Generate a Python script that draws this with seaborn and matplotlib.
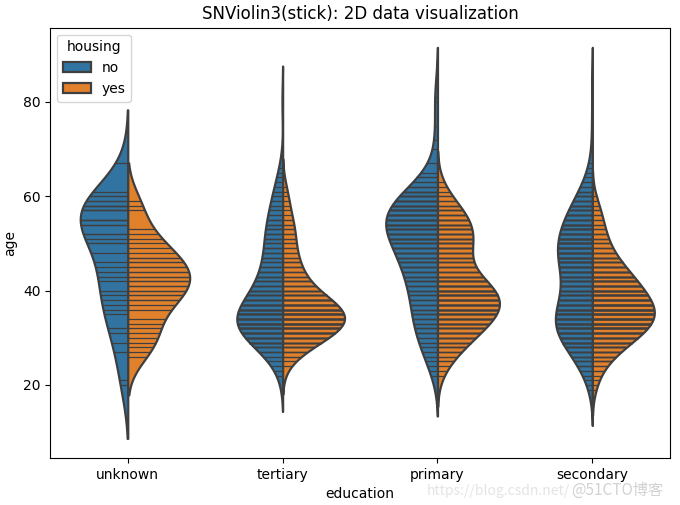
import numpy as np
import pandas as pd
import seaborn as sns
import matplotlib.pyplot as plt

education = ['unknown', 'tertiary', 'primary', 'secondary']
housing = ['no', 'yes']

# ages seen in each (education, housing) group and how often each occurs
unknown_no_age = [20, 21, 27, 29, 31, 32, 35, 36, 37, 38, 39, 40, 42, 43, 44, 45, 46, 48,
                  50, 51, 52, 54, 55, 57, 58, 59, 60, 61, 67]
unknown_no_n = [1, 1, 1, 1, 1, 1, 1, 1, 1, 1, 1, 1, 1, 1, 1, 1, 1, 1,
                2, 1, 2, 2, 3, 3, 3, 2, 2, 1, 1]
unknown_yes_age = [26, 27, 28, 29, 30, 31, 32, 33, 34, 36, 37, 38, 39, 40, 41, 42, 43, 44,
                   45, 46, 47, 48, 49, 50, 51, 52, 53, 57, 58, 59]
unknown_yes_n = [1, 1, 1, 1, 1, 1, 1, 1, 1, 1, 1, 2, 2, 2, 2, 2, 2, 2,
                 2, 2, 2, 1, 1, 1, 1, 1, 1, 1, 1, 1]

tertiary_no_age = [22, 23, 24, 25, 26, 27, 28, 29, 30, 31, 32, 33, 34, 35, 36, 37, 38, 39,
                   40, 41, 42, 43, 44, 45, 46, 47, 48, 49, 50, 51, 52, 53, 54, 55, 56, 57,
                   58, 59, 60, 61, 62, 63, 64, 65, 66, 80]
tertiary_no_n = [1, 1, 1, 1, 2, 3, 4, 6, 7, 8, 9, 9, 9, 9, 8, 7, 6, 5,
                 5, 4, 4, 4, 4, 3, 3, 3, 3, 3, 3, 3, 3, 3, 3, 3, 2, 2,
                 2, 2, 2, 2, 1, 1, 1, 1, 1, 1]
tertiary_yes_age = [24, 25, 26, 27, 28, 29, 30, 31, 32, 33, 34, 35, 36, 37, 38, 39, 40, 41,
                    42, 43, 44, 45, 46, 47, 48, 49, 50, 51, 52, 53, 54, 55, 56, 57, 58, 59,
                    60, 61, 62]
tertiary_yes_n = [1, 1, 2, 3, 4, 6, 7, 9, 10, 11, 11, 11, 10, 9, 8, 6, 5, 4,
                  4, 3, 3, 3, 3, 2, 2, 2, 2, 2, 2, 2, 2, 2, 1, 1, 1, 1,
                  1, 1, 1]

primary_no_age = [22, 23, 24, 25, 26, 27, 28, 29, 30, 31, 32, 33, 34, 35, 36, 37, 38,
                  39, 40, 41, 42, 43, 44, 45, 46, 47, 48, 49, 50, 51, 52, 53, 54, 55, 56,
                  57, 58, 59, 60, 61, 62, 63, 64, 65, 67, 70, 72, 75, 80, 81, 83]
primary_no_n = [1, 1, 1, 1, 2, 2, 2, 2, 2, 3, 3, 3, 3, 3, 3, 3, 3,
                3, 3, 3, 4, 4, 4, 4, 4, 4, 5, 5, 5, 6, 6, 6, 7, 7, 7,
                7, 6, 6, 5, 4, 3, 2, 2, 1, 1, 1, 1, 1, 1, 1, 1]
primary_yes_age = [22, 23, 24, 25, 26, 27, 28, 29, 30, 31, 32, 33, 34, 35, 36, 37, 38, 39,
                   40, 41, 42, 43, 44, 45, 46, 47, 48, 49, 50, 51, 52, 53, 54, 55, 56, 57,
                   58, 59, 60, 61, 62, 63]
primary_yes_n = [1, 1, 1, 2, 2, 3, 4, 4, 5, 6, 6, 7, 8, 9, 9, 9, 9, 9,
                 9, 8, 7, 5, 4, 4, 4, 4, 4, 5, 5, 5, 5, 5, 5, 5, 4, 4,
                 3, 2, 2, 1, 1, 1]

secondary_no_age = [19, 20, 21, 22, 23, 24, 25, 26, 27, 28, 29, 30, 31, 32, 33, 34, 35, 36,
                    37, 38, 39, 40, 41, 42, 43, 44, 45, 46, 47, 48, 49, 50, 51, 52, 53, 54,
                    55, 56, 57, 58, 59, 60, 61, 62, 63, 64, 65, 66, 67, 72, 77, 84]
secondary_no_n = [1, 1, 1, 2, 2, 3, 3, 4, 5, 6, 7, 8, 8, 9, 9, 9, 9, 8,
                  7, 7, 6, 6, 6, 6, 6, 7, 7, 7, 8, 8, 8, 8, 8, 7, 7, 7,
                  6, 6, 5, 5, 4, 4, 3, 2, 2, 1, 1, 1, 1, 1, 1, 1]
secondary_yes_age = [19, 20, 21, 22, 23, 24, 25, 26, 27, 28, 29, 30, 31, 32, 33, 34, 35, 36,
                     37, 38, 39, 40, 41, 42, 43, 44, 45, 46, 47, 48, 49, 50, 51, 52, 53, 54,
                     55, 56, 57, 58, 59, 60]
secondary_yes_n = [1, 1, 1, 1, 2, 2, 3, 4, 5, 6, 7, 8, 10, 11, 12, 12, 12, 12,
                   12, 11, 10, 10, 9, 8, 8, 7, 6, 5, 5, 4, 3, 3, 3, 3, 2, 2,
                   2, 2, 2, 1, 1, 1]

groups = {
    ('unknown', 'no'): (unknown_no_age, unknown_no_n),
    ('unknown', 'yes'): (unknown_yes_age, unknown_yes_n),
    ('tertiary', 'no'): (tertiary_no_age, tertiary_no_n),
    ('tertiary', 'yes'): (tertiary_yes_age, tertiary_yes_n),
    ('primary', 'no'): (primary_no_age, primary_no_n),
    ('primary', 'yes'): (primary_yes_age, primary_yes_n),
    ('secondary', 'no'): (secondary_no_age, secondary_no_n),
    ('secondary', 'yes'): (secondary_yes_age, secondary_yes_n),
}

frames = []
for (edu, house), (ages, counts) in groups.items():
    frames.append(pd.DataFrame({'education': edu, 'housing': house,
                                'age': np.repeat(ages, counts)}))
df = pd.concat(frames, ignore_index=True)

fig, ax = plt.subplots(figsize=(6.8, 5.05), dpi=100)
# one call per category so that each category's widest half fills the slot
for i, edu in enumerate(education):
    sub = df[df['education'] == edu]
    sns.violinplot(data=sub, x='education', y='age', hue='housing', order=education,
                   hue_order=housing, split=True, inner='stick', common_norm=True,
                   saturation=0.75, linewidth=1.6, inner_kws={'linewidth': 0.9},
                   ax=ax, legend=(i == 0))

ax.set_title('SNViolin3(stick): 2D data visualization')
ax.set_xlabel('education')
ax.set_ylabel('age')
ax.legend(title='housing', loc='upper left')

fig.subplots_adjust(left=0.074, right=0.985, top=0.945, bottom=0.093)

wm = ['Noto Sans CJK SC', 'DejaVu Sans']
fig.text(0.628, 0.02, 'https://blog.csdn.net/', color='#e4e4e4', fontsize=10, family=wm)
fig.text(0.84, 0.02, '@51CTO博客', color='#d2d2d2', fontsize=11, family=wm)

fig.savefig('out.png', dpi=100)
